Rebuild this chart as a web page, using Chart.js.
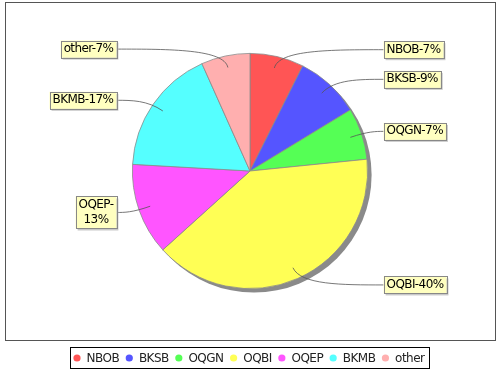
<!DOCTYPE html>
<html>
<head>
<meta charset="utf-8">
<script src="https://cdn.jsdelivr.net/npm/chart.js@4.4.0/dist/chart.umd.min.js"></script>
<style>
    html, body { margin: 0; padding: 0; background: #fff; }
    #wrap { width: 500px; height: 370px; }
</style>
</head>
<body>
<div id="wrap"><canvas id="pieChart" width="500" height="370"></canvas></div>
<script>
const categories = ["NBOB", "BKSB", "OQGN", "OQBI", "OQEP", "BKMB", "other"];
const shares = [7.4, 8.9, 7.1, 39.9, 12.6, 17.4, 6.7];
const sliceColors = ["#ff5555", "#5555ff", "#55ff55", "#ffff55", "#ff55ff", "#55ffff", "#ffafaf"];
const twoLineLabels = ["OQEP"];

const FONT = "DejaVu Sans, sans-serif";

// ================= DECORATION PLUGIN =================
const pieDecor = {
    id: "pieDecor",

    beforeDatasetsDraw(chart) {
        const ctx = chart.ctx;
        const arc = chart.getDatasetMeta(0).data[0];

        // plot frame
        ctx.save();
        ctx.strokeStyle = "#555";
        ctx.lineWidth = 1;
        ctx.strokeRect(5.5, 2.5, 490, 338);

        // pie shadow
        ctx.fillStyle = "#8a8a8a";
        ctx.beginPath();
        ctx.arc(arc.x + 4, arc.y + 4, arc.outerRadius, 0, Math.PI * 2);
        ctx.fill();
        ctx.restore();
    },

    afterDatasetsDraw(chart) {
        const ctx = chart.ctx;
        const meta = chart.getDatasetMeta(0);
        const total = shares.reduce((a, b) => a + b, 0);

        ctx.save();
        ctx.font = "12px " + FONT;
        ctx.letterSpacing = "-0.6px";
        ctx.textBaseline = "middle";

        meta.data.forEach((el, i) => {
            const mid = (el.startAngle + el.endAngle) / 2;
            const r = el.outerRadius;
            const right = Math.cos(mid) >= 0;

            const ax = el.x + 0.9 * r * Math.cos(mid);
            const ay = el.y + 0.9 * r * Math.sin(mid);
            const ex = el.x + 1.06 * r * Math.cos(mid);
            const ly = el.y + 1.06 * r * Math.sin(mid);
            const lx = right ? el.x + r + 16 : el.x - r - 16;

            const pct = Math.round(shares[i] / total * 100) + "%";
            const lines = twoLineLabels.includes(categories[i])
                ? [categories[i] + "-", pct]
                : [categories[i] + "-" + pct];

            // leader
            ctx.strokeStyle = "#555";
            ctx.lineWidth = 0.8;
            ctx.beginPath();
            ctx.moveTo(lx, ly);
            ctx.bezierCurveTo((lx + ex) / 2, ly, ex, ly, ax, ay);
            ctx.stroke();

            // label box
            const tw = Math.max(...lines.map(l => ctx.measureText(l).width));
            const w = tw + 6;
            const h = lines.length * 15 + 2;
            const bx = right ? lx : lx - w;
            const by = ly - h / 2;

            ctx.fillStyle = "#c8c8c8";
            ctx.fillRect(bx + 2, by + 2, w, h);
            ctx.fillStyle = "#ffffc0";
            ctx.fillRect(bx, by, w, h);
            ctx.strokeStyle = "#888";
            ctx.lineWidth = 1;
            ctx.strokeRect(Math.round(bx) + 0.5, Math.round(by) + 0.5, Math.round(w), Math.round(h));

            ctx.fillStyle = "#000";
            ctx.textAlign = "center";
            lines.forEach((l, k) => {
                ctx.fillText(l, bx + w / 2, by + 1 + 7.5 + k * 15);
            });
        });

        // ================= LEGEND =================
        ctx.font = "12px " + FONT;
        ctx.letterSpacing = "-0.5px";
        ctx.textAlign = "left";
        const widths = categories.map(c => ctx.measureText(c).width);
        const itemW = widths.map(w => 9.6 + w + 10);
        const totalW = itemW.reduce((a, b) => a + b, 0) - 10 + 3.5 + 3.5 + 4.5;
        const boxX = Math.round(250 - totalW / 2);
        const boxY = 347;

        ctx.strokeStyle = "#000";
        ctx.lineWidth = 1;
        ctx.strokeRect(boxX + 0.5, boxY + 0.5, Math.round(totalW), 21);

        let x = boxX + 3.5 + 3.5;
        categories.forEach((c, i) => {
            ctx.fillStyle = sliceColors[i];
            ctx.beginPath();
            ctx.arc(x, 358, 3.6, 0, Math.PI * 2);
            ctx.fill();
            ctx.fillStyle = "#222";
            ctx.fillText(c, x + 9.6, 358.5);
            x += itemW[i];
        });

        ctx.restore();
    }
};

new Chart(document.getElementById("pieChart"), {
    type: "pie",
    data: {
        labels: categories,
        datasets: [{
            data: shares,
            backgroundColor: sliceColors,
            borderColor: "#8c8c8c",
            borderWidth: 0.8
        }]
    },
    options: {
        responsive: false,
        devicePixelRatio: 1,
        animation: false,
        layout: { padding: { top: 53, bottom: 81, left: 132, right: 132 } },
        plugins: {
            legend: { display: false },
            tooltip: { enabled: false }
        }
    },
    plugins: [pieDecor]
});
</script>
</body>
</html>
